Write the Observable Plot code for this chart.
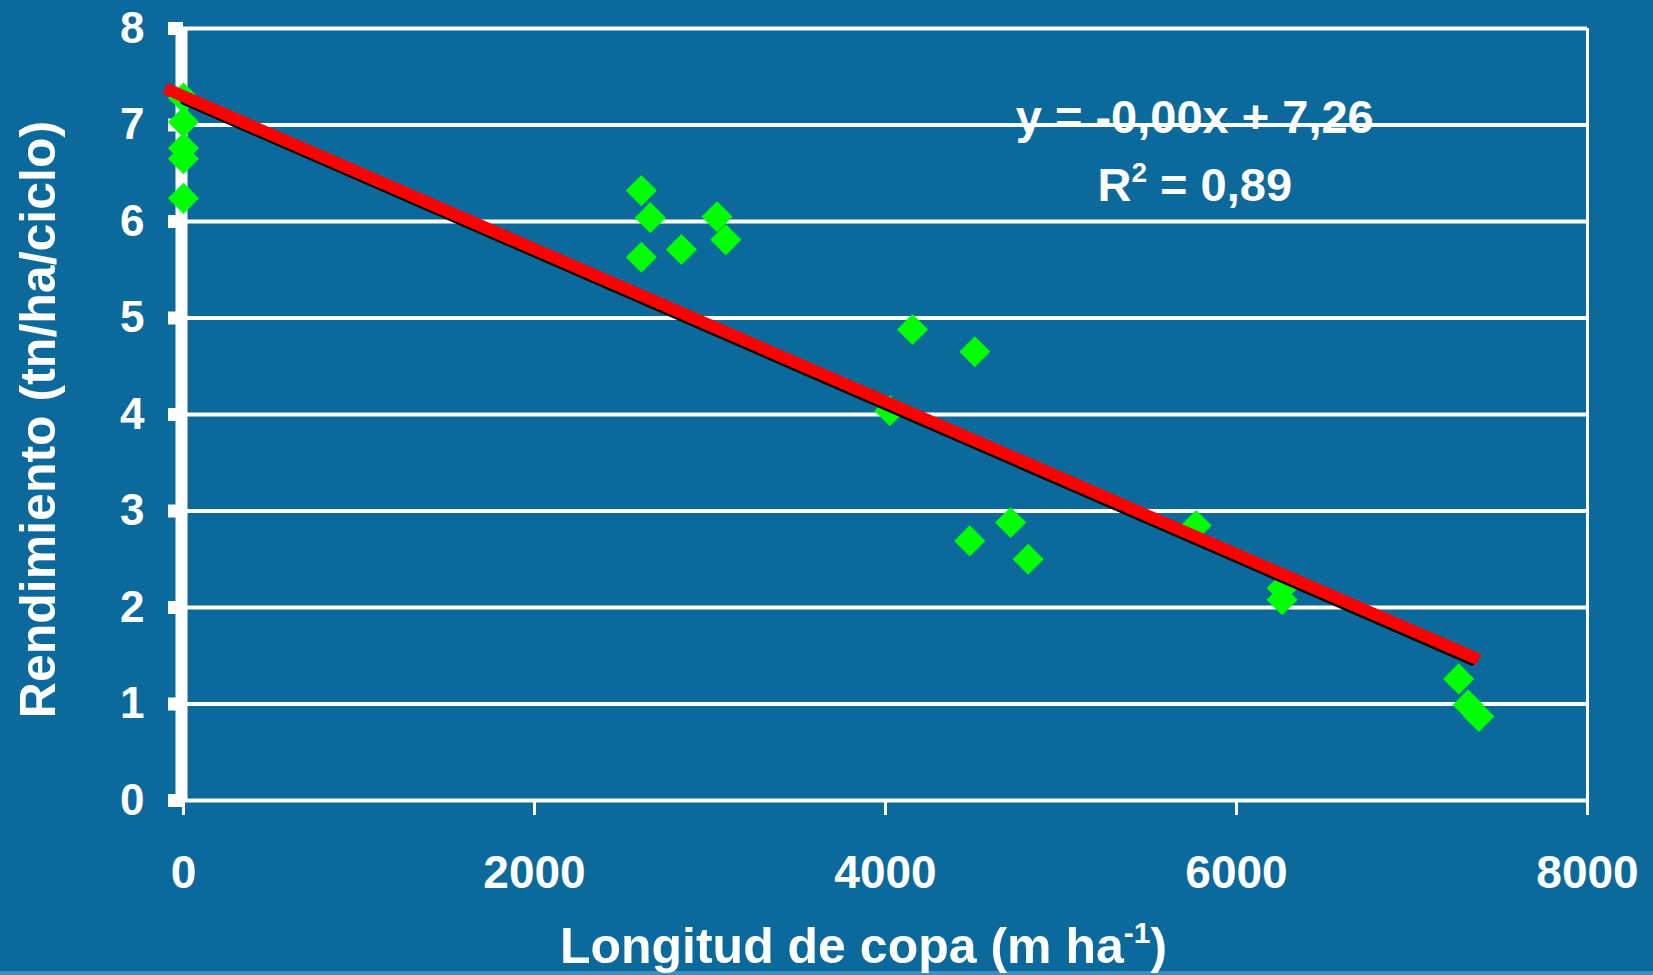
<!DOCTYPE html>
<html>
<head>
<meta charset="utf-8">
<script src="https://cdn.jsdelivr.net/npm/d3@7"></script>
<script src="https://cdn.jsdelivr.net/npm/@observablehq/plot@0.6"></script>
<style>
  html, body { margin: 0; padding: 0; background: #0b6a9b; width: 1653px; height: 975px; overflow: hidden; }
  #wrap { position: relative; width: 1653px; height: 975px; }
  #strip { position: absolute; left: 0; top: 971px; width: 1653px; height: 4px; background: #3a8fc2; }
  #chart { position: absolute; left: 0; top: 0; }
</style>
</head>
<body>
<div id="wrap"><div id="strip"></div><div id="chart"></div></div>
<script>
// ---- data ----
const copa = [0, 0, 0, 0, 0, 2609, 2660, 2609, 2837, 3040, 3090, 4025, 4154, 4509, 4713, 4480, 4813, 5770, 6260, 6260, 7266, 7320, 7381];
const rendimiento = [7.28, 7.03, 6.76, 6.65, 6.24, 6.32, 6.04, 5.63, 5.71, 6.05, 5.81, 4.04, 4.88, 4.65, 2.88, 2.69, 2.50, 2.85, 2.20, 2.08, 1.26, 0.99, 0.87];
const fitX = [0, 7340];
const fitY = [7.24, 1.43];
const trendX = [-105, 7380];
const trendY = [7.38, 1.46];
const xTicks = [0, 2000, 4000, 6000, 8000];
const yTicks = [0, 1, 2, 3, 4, 5, 6, 7, 8];
const yGrid = [1, 2, 3, 4, 5, 6, 7, 8];
const xTitle = ["Longitud de copa (m ha", "-1", ")"];
const yTitle = "Rendimiento (tn/ha/ciclo)";
const eqText = [["y = -0,00x + 7,26"], ["R", "2", " = 0,89"]];
const eqX = [5762, 5762];
const eqY = [7.07, 6.37];

const points = copa.map((x, i) => ({x, y: rendimiento[i]}));
const fit = fitX.map((x, i) => ({x, y: fitY[i]}));
const trend = trendX.map((x, i) => ({x, y: trendY[i]}));
const eq = eqText.map((t, i) => ({text: t.join(""), x: eqX[i], y: eqY[i]}));

const chart = Plot.plot({
  width: 1653,
  height: 975,
  marginLeft: 183,
  marginRight: 66,
  marginTop: 28,
  marginBottom: 175,
  x: {domain: [0, 8000]},
  y: {domain: [0, 8]},
  style: {
    background: "transparent",
    color: "white",
    fontFamily: "'Liberation Sans', Arial, sans-serif",
    fontWeight: "bold",
    overflow: "visible"
  },
  marks: [
    Plot.ruleY(yGrid, {stroke: "white", strokeWidth: 4}),
    Plot.ruleX([8000], {stroke: "white", strokeWidth: 3}),
    Plot.ruleY([0], {stroke: "white", strokeWidth: 4}),
    Plot.axisX({ticks: xTicks, tickSize: 15, tickPadding: 40, strokeWidth: 3,
      tickFormat: d => String(d), fontSize: 46, fontWeight: "bold", label: null}),
    Plot.axisY({ticks: yTicks, tickSize: 15, tickPadding: 24, strokeWidth: 13,
      tickFormat: d => String(d), fontSize: 44, fontWeight: "bold", label: null}),
    Plot.ruleX([0], {y1: 0, y2: 8, stroke: "white", strokeWidth: 12, dx: -2}),
    Plot.dot(points, {x: "x", y: "y", symbol: "diamond2", r: 14, fill: "#00ff00", stroke: null}),
    Plot.line(fit, {x: "x", y: "y", stroke: "black", strokeWidth: 6}),
    Plot.line(trend, {x: "x", y: "y", stroke: "#ff0000", strokeWidth: 12, strokeLinecap: "butt"}),
    Plot.text(eq, {x: "x", y: "y", text: "text", fontSize: 47, fontWeight: "bold", fill: "white"}),
    Plot.text([xTitle.join("")], {frameAnchor: "bottom", dx: -22, dy: 162, fontSize: 50, fontWeight: "bold", fill: "white"}),
    Plot.text([yTitle], {frameAnchor: "left", textAnchor: "middle", rotate: -90, dx: -145, dy: 5, fontSize: 50, fontWeight: "bold", fill: "white"})
  ]
});

// superscripts
function withSup(parts, size) {
  const joined = parts.join("");
  d3.select(chart).selectAll("text").each(function() {
    if (this.textContent === joined && this.childElementCount === 0) {
      const t = d3.select(this);
      t.text(null);
      const shift = Math.round(size * 0.4);
      t.append("tspan").text(parts[0]);
      t.append("tspan").text(parts[1]).attr("font-size", Math.round(size * 0.6)).attr("dy", -shift);
      t.append("tspan").text(parts[2]).attr("dy", shift);
    }
  });
}
withSup(xTitle, 50);
withSup(eqText[1], 47);

document.getElementById("chart").appendChild(chart);
</script>
</body>
</html>
